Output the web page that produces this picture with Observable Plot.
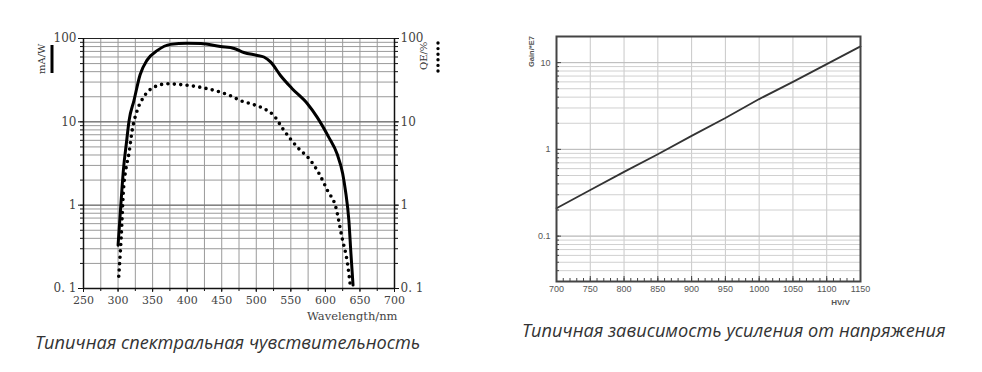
<!DOCTYPE html>
<html><head><meta charset="utf-8">
<script src="https://cdn.jsdelivr.net/npm/d3@7"></script>
<script src="https://cdn.jsdelivr.net/npm/@observablehq/plot@0.6"></script>
<style>
body{margin:0;background:#fff;width:982px;height:372px;overflow:hidden;position:relative}
#left{position:absolute;left:0;top:0}
#right{position:absolute;left:500px;top:0}
.cap{position:absolute;font-family:"Open Sans",sans-serif;font-style:italic;font-size:18.2px;color:#333;white-space:nowrap;line-height:22px}
</style></head><body>
<div id="left"></div><div id="right"></div>
<div class="cap" style="left:35px;top:331px">Типичная спектральная чувствительность</div>
<div class="cap" style="left:522px;top:319px">Типичная зависимость усиления от напряжения</div>
<script>
// ---- Left chart: spectral sensitivity ----
const wavelengthSolid = [300, 304, 308, 312, 316, 323, 332, 342, 357, 376, 400, 420, 448, 468, 482, 500, 511, 521, 535, 552, 574, 588, 605, 617, 625, 629, 634, 637, 640];
const sensitivityMAW = [0.33, 1.0, 2.8, 5.5, 10.4, 18, 37, 55, 72, 85, 88, 87, 80, 76, 68, 63, 60, 52, 36, 25, 16.5, 11.4, 6.5, 4.1, 2.4, 1.5, 0.65, 0.26, 0.11];
const wavelengthDotted = [301, 304.5, 308, 311, 315.6, 320.4, 327.7, 337, 351.7, 371, 390, 419, 448, 462, 477, 492, 511, 525, 540, 559, 579, 592, 603, 615, 624, 632, 636];
const quantumEffPct = [0.14, 0.41, 1.6, 2.6, 4.1, 7.9, 13.7, 19.8, 26, 28.6, 28, 26, 22.7, 20.7, 18, 16.5, 14.4, 12, 7.9, 5, 3.4, 2.3, 1.5, 0.95, 0.41, 0.2, 0.11];
const wavelengthTicks = [250, 300, 350, 400, 450, 500, 550, 600, 650, 700];
const leftYTicks = [0.1, 1, 10, 100];
const leftYTickLabels = ["0. 1", "1", "10", "100"];

// ---- Right chart: gain vs voltage ----
const voltage = [700, 750, 800, 850, 900, 950, 1000, 1050, 1100, 1150];
const gainE7 = [0.21, 0.34, 0.55, 0.88, 1.43, 2.3, 3.8, 6.0, 9.6, 15.4];
const voltageTicks = [700, 750, 800, 850, 900, 950, 1000, 1050, 1100, 1150];
const rightYTicks = [0.1, 1, 10];
const rightYTickLabels = ["0.1", "1", "10"];

function logMinor(lo, hi) {
  const out = [];
  for (let e = -3; e <= 3; e++) for (let m = 1; m <= 9; m++) {
    const v = +(m * Math.pow(10, e)).toPrecision(6);
    if (v >= lo - 1e-9 && v <= hi + 1e-9) out.push(v);
  }
  return out;
}

const serif = "DejaVu Serif";
const solid = wavelengthSolid.map((w, i) => ({w, v: sensitivityMAW[i]}));
const dotted = wavelengthDotted.map((w, i) => ({w, v: quantumEffPct[i]}));
const leftMinor = logMinor(0.1, 100);
const xGrid = d3.range(250, 701, 25);
const fmtLeft = d => leftYTickLabels[leftYTicks.indexOf(d)];

const left = Plot.plot({
  width: 450, height: 330,
  marginLeft: 83, marginRight: 56, marginTop: 38, marginBottom: 42,
  x: {domain: [250, 700], label: null},
  y: {type: "log", domain: [0.1, 100], label: null},
  style: {fontFamily: serif, fontSize: "11px", color: "#444", background: "transparent"},
  marks: [
    Plot.ruleX(xGrid, {stroke: "#9a9a9a", strokeWidth: 1}),
    Plot.ruleY(leftMinor, {stroke: "#9a9a9a", strokeWidth: 1}),
    Plot.ruleY([1, 10], {stroke: "#666", strokeWidth: 1}),
    Plot.ruleY([100], {stroke: "#222", strokeWidth: 1.2}),
    Plot.ruleY([0.1], {stroke: "#111", strokeWidth: 1.5}),
    Plot.ruleX([250, 700], {stroke: "#111", strokeWidth: 1.5}),
    Plot.line(solid, {x: "w", y: "v", stroke: "#000", strokeWidth: 3, curve: "monotone-x"}),
    Plot.line(dotted, {x: "w", y: "v", stroke: "#000", strokeWidth: 3.6, strokeDasharray: "0 6.4", strokeLinecap: "round", curve: "monotone-x"}),
    Plot.axisY({anchor: "left", ticks: leftMinor, tickFormat: () => "", tickSize: 3, stroke: "#111", label: null}),
    Plot.axisY({anchor: "left", ticks: leftYTicks, tickFormat: fmtLeft, tickSize: 5, tickPadding: 2, fontSize: 12, stroke: "#111", label: null}),
    Plot.axisY({anchor: "right", ticks: leftMinor, tickFormat: () => "", tickSize: 3, stroke: "#111", label: null}),
    Plot.axisY({anchor: "right", ticks: leftYTicks, tickFormat: fmtLeft, tickSize: 4, tickPadding: 2, fontSize: 12, stroke: "#111", label: null}),
    Plot.axisX({anchor: "bottom", ticks: xGrid, tickFormat: () => "", tickSize: 3, stroke: "#111", label: null}),
    Plot.axisX({anchor: "bottom", ticks: wavelengthTicks, tickFormat: d => String(d), tickSize: 4, tickPadding: 4, fontSize: 11, stroke: "#111", label: null}),
    Plot.text(["Wavelength/nm"], {frameAnchor: "bottom-right", dy: 31, dx: 3, fontSize: 11.5, fill: "#444", textAnchor: "end"})
  ]
});
document.getElementById("left").appendChild(left);

// axis title decorations (left chart)
const lsvg = d3.select(left);
lsvg.append("text").attr("text-anchor", "start").attr("transform", "translate(45,74) rotate(-90)").attr("font-family", serif).attr("font-size", 10).attr("fill", "#333").text("mA/W");
lsvg.append("line").attr("x1", 52).attr("x2", 52).attr("y1", 45).attr("y2", 73).attr("stroke", "#000").attr("stroke-width", 3);
lsvg.append("text").attr("text-anchor", "start").attr("transform", "translate(427,70) rotate(-90)").attr("font-family", serif).attr("font-size", 10).attr("fill", "#333").text("QE/%");
lsvg.append("line").attr("x1", 438).attr("x2", 438).attr("y1", 43).attr("y2", 72).attr("stroke", "#000").attr("stroke-width", 3.4).attr("stroke-dasharray", "0 5.6").attr("stroke-linecap", "round");

// ---- Right chart ----
const gainData = voltage.map((v, i) => ({v, g: gainE7[i]}));
const rightMinor = logMinor(0.03, 20);
const vMinor = d3.range(700, 1151, 10);
const sans = "Liberation Sans";
const fmtRight = d => rightYTickLabels[rightYTicks.indexOf(d)];
const right = Plot.plot({
  width: 400, height: 320,
  marginLeft: 56, marginRight: 40, marginTop: 36, marginBottom: 39,
  x: {domain: [700, 1150], label: null},
  y: {type: "log", domain: [0.03, 20], label: null},
  style: {fontFamily: sans, fontSize: "9px", color: "#555", background: "transparent"},
  marks: [
    Plot.ruleX(voltageTicks, {stroke: "#c8c8c8", strokeWidth: 1}),
    Plot.ruleY(rightMinor, {stroke: "#d0d0d0", strokeWidth: 1}),
    Plot.ruleY(rightYTicks, {stroke: "#bdbdbd", strokeWidth: 1}),
    Plot.line(gainData, {x: "v", y: "g", stroke: "#333", strokeWidth: 1.8}),
    Plot.frame({stroke: "#444", strokeWidth: 2}),
    Plot.axisY({anchor: "left", ticks: rightMinor, tickFormat: () => "", tickSize: -3, stroke: "#444", label: null}),
    Plot.axisY({anchor: "left", ticks: rightYTicks, tickFormat: fmtRight, tickSize: 0, tickPadding: 6, fontSize: 9, label: null}),
    Plot.axisY({anchor: "left", ticks: rightYTicks, tickFormat: () => "", tickSize: -5, stroke: "#444", label: null}),
    Plot.axisX({anchor: "bottom", ticks: vMinor, tickFormat: () => "", tickSize: -3, stroke: "#444", label: null}),
    Plot.axisX({anchor: "bottom", ticks: voltageTicks, tickFormat: () => "", tickSize: -5, stroke: "#444", label: null}),
    Plot.axisX({anchor: "bottom", ticks: voltageTicks, tickFormat: d => String(d), tickSize: 0, tickPadding: 4, fontSize: 9, label: null}),
    Plot.text(["HV/V"], {frameAnchor: "bottom-right", dy: 23, dx: -20, fontSize: 8, fontWeight: "bold", fill: "#555", textAnchor: "middle"})
  ]
});
document.getElementById("right").appendChild(right);
const rsvg = d3.select(right);
rsvg.append("text").attr("text-anchor", "start").attr("transform", "translate(34,67) rotate(-90)").attr("font-family", sans).attr("font-size", 7.5).attr("font-weight", "bold").attr("fill", "#555").text("Gain/*E7");
</script>
</body></html>
